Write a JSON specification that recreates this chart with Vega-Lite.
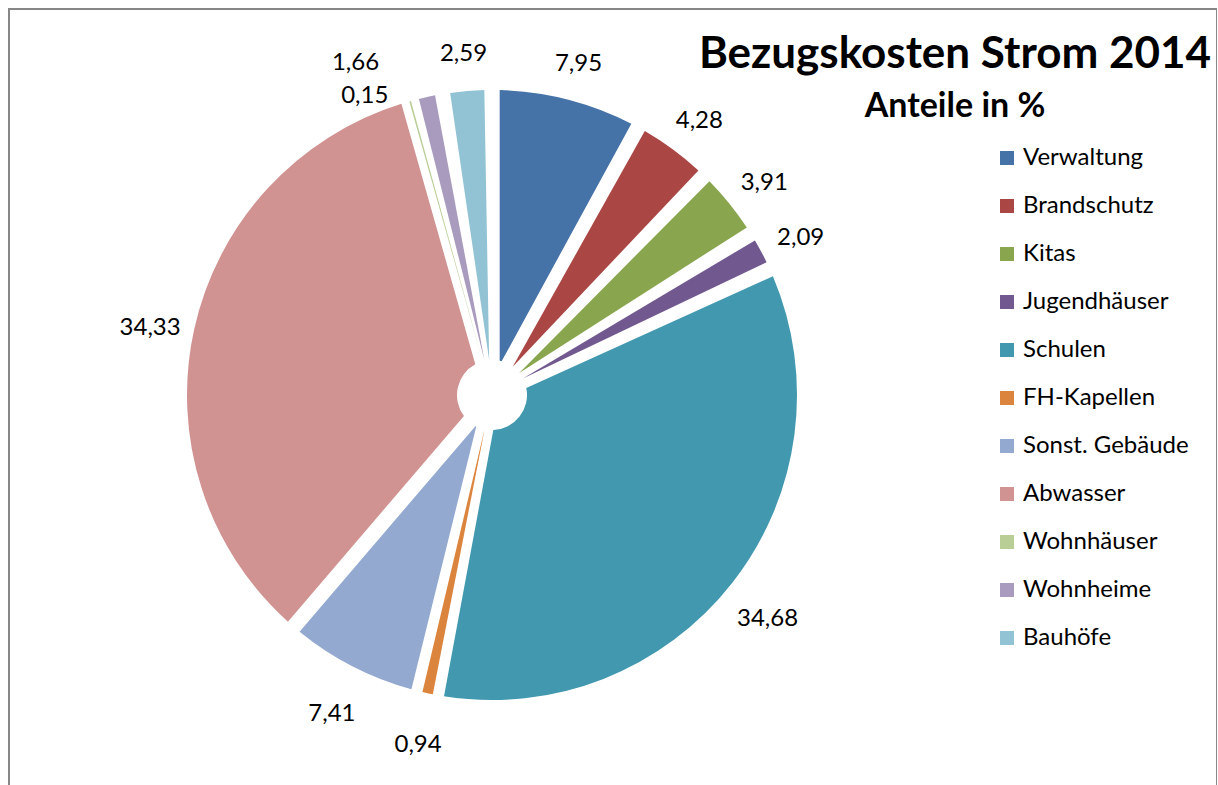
{
  "$schema": "https://vega.github.io/schema/vega-lite/v6.json",
  "width": 1208,
  "height": 800,
  "autosize": {"type": "none"},
  "padding": {"left": 9, "top": 9, "right": 0, "bottom": 0},
  "background": "white",
  "view": {"stroke": "#878787", "strokeWidth": 2, "fill": "white"},
  "config": {
    "view": {"stroke": "#878787", "strokeWidth": 2},
    "font": "Lato"
  },
  "title": {
    "text": "Bezugskosten Strom 2014",
    "subtitle": "Anteile in %",
    "font": "Lato",
    "fontSize": 44,
    "fontWeight": "bold",
    "color": "black",
    "subtitleFont": "Lato",
    "subtitleFontSize": 34,
    "subtitleFontWeight": "bold",
    "subtitleColor": "black",
    "subtitlePadding": 13,
    "anchor": "start",
    "align": "center",
    "frame": "group",
    "dx": 946,
    "dy": 119
  },
  "data": {
    "values": [
      {"idx": 1, "cat": "Verwaltung", "value": 7.95, "label": "7,95"},
      {"idx": 2, "cat": "Brandschutz", "value": 4.28, "label": "4,28"},
      {"idx": 3, "cat": "Kitas", "value": 3.91, "label": "3,91"},
      {"idx": 4, "cat": "Jugendhäuser", "value": 2.09, "label": "2,09"},
      {"idx": 5, "cat": "Schulen", "value": 34.68, "label": "34,68"},
      {"idx": 6, "cat": "FH-Kapellen", "value": 0.94, "label": "0,94"},
      {"idx": 7, "cat": "Sonst. Gebäude", "value": 7.41, "label": "7,41"},
      {"idx": 8, "cat": "Abwasser", "value": 34.33, "label": "34,33"},
      {"idx": 9, "cat": "Wohnhäuser", "value": 0.15, "label": "0,15"},
      {"idx": 10, "cat": "Wohnheime", "value": 1.66, "label": "1,66"},
      {"idx": 11, "cat": "Bauhöfe", "value": 2.59, "label": "2,59"}
    ]
  },
  "encoding": {
    "theta": {"field": "value", "type": "quantitative", "stack": true},
    "order": {"field": "idx", "type": "quantitative"}
  },
  "layer": [
    {
      "mark": {"type": "arc", "radius": 305, "innerRadius": 35, "padAngle": 0.05, "xOffset": -121, "yOffset": -14},
      "encoding": {
        "color": {
          "field": "cat",
          "type": "nominal",
          "scale": {
            "domain": ["Verwaltung", "Brandschutz", "Kitas", "Jugendhäuser", "Schulen", "FH-Kapellen", "Sonst. Gebäude", "Abwasser", "Wohnhäuser", "Wohnheime", "Bauhöfe"],
            "range": ["#4572A7", "#AA4643", "#89A54E", "#71588F", "#4198AF", "#DB843D", "#93A9CF", "#D19392", "#B9CD96", "#A99BBD", "#92C3D4"]
          },
          "legend": {
            "title": null,
            "orient": "none",
            "legendX": 986,
            "legendY": 137,
            "symbolType": "square",
            "symbolSize": 196,
            "symbolStrokeWidth": 0,
            "symbolOpacity": 1,
            "labelFont": "Lato",
            "labelFontSize": 24,
            "labelColor": "black",
            "labelOffset": 4,
            "labelLimit": 400,
            "rowPadding": 24,
            "padding": 0
          }
        }
      }
    },
    {
      "mark": {"type": "arc", "radius": 305, "innerRadius": 35, "padAngle": 0.024, "xOffset": -121, "yOffset": -14},
      "encoding": {
        "color": {"field": "cat", "type": "nominal"},
        "opacity": {"condition": {"test": "datum.cat === 'FH-Kapellen'", "value": 1}, "value": 0}
      }
    },
    {
      "mark": {"type": "arc", "radius": 305, "innerRadius": 35, "padAngle": 0.004, "xOffset": -121, "yOffset": -14},
      "encoding": {
        "color": {"field": "cat", "type": "nominal"},
        "opacity": {"condition": {"test": "datum.cat === 'Wohnhäuser'", "value": 1}, "value": 0}
      }
    },
    {
      "mark": {"type": "text", "radius": 350, "fontSize": 24, "font": "Lato", "color": "black", "xOffset": -121, "yOffset": -6},
      "encoding": {
        "detail": {"field": "cat", "type": "nominal"},
        "text": {
          "field": "label",
          "type": "nominal",
          "condition": {"test": "datum.cat === 'Wohnhäuser' || datum.cat === 'Wohnheime'", "value": ""}
        }
      }
    },
    {
      "mark": {"type": "text", "radius": 340, "fontSize": 24, "font": "Lato", "color": "black", "xOffset": -121, "yOffset": -14, "dx": -64},
      "encoding": {
        "detail": {"field": "cat", "type": "nominal"},
        "text": {
          "field": "label",
          "type": "nominal",
          "condition": {"test": "datum.cat !== 'Wohnheime'", "value": ""}
        }
      }
    },
    {
      "mark": {"type": "text", "radius": 310, "fontSize": 24, "font": "Lato", "color": "black", "xOffset": -121, "yOffset": -14, "dx": -44},
      "encoding": {
        "detail": {"field": "cat", "type": "nominal"},
        "text": {
          "field": "label",
          "type": "nominal",
          "condition": {"test": "datum.cat !== 'Wohnhäuser'", "value": ""}
        }
      }
    }
  ]
}
